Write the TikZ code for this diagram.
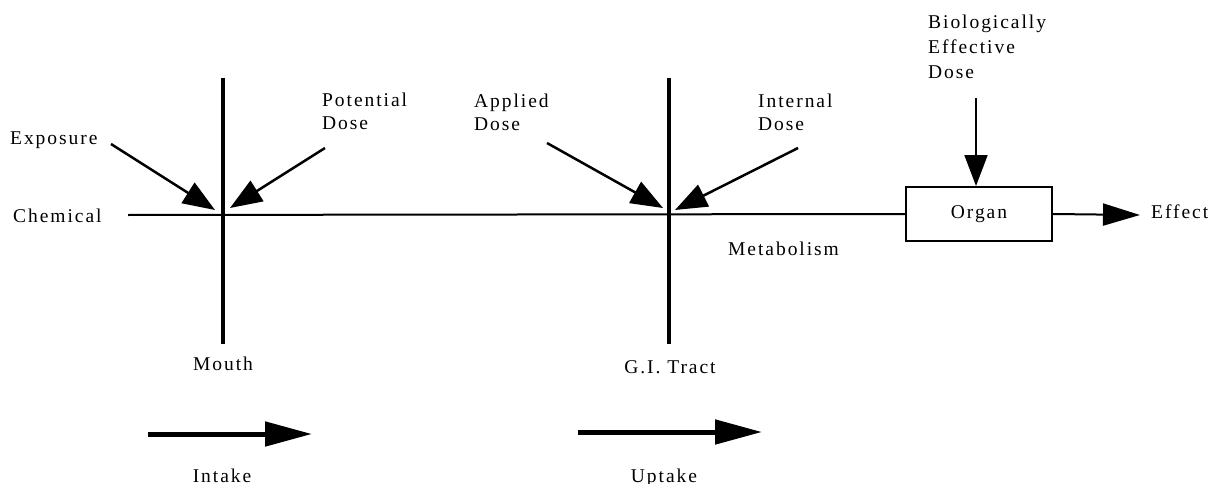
\documentclass[tikz,border=0pt]{standalone}
\usepackage{fontspec}
\setmainfont{Liberation Serif}[LetterSpace=10]
\usetikzlibrary{arrows.meta}
\begin{document}
\begin{tikzpicture}[x=1pt,y=-1pt,
  lbl/.style={inner sep=0pt,font=\fontsize{19.5}{23.5}\selectfont,align=left},
  barrier/.style={line width=4.5pt},
  flow/.style={line width=2pt},
  dosearrow/.style={line width=2.5pt,-{Triangle[length=32pt,width=24pt]}},
  bigarrow/.style={line width=5pt,-{Triangle[length=47pt,width=24pt]}},
  organbox/.style={draw,line width=2pt,minimum width=146pt,minimum height=54pt,inner sep=0pt,font=\fontsize{19.5}{23.5}\selectfont}
]
\useasboundingbox (0,0) rectangle (1220,484);

% coordinates
\coordinate (chemstart) at (128,215);
\coordinate (mouthtop) at (223,78);
\coordinate (mouthbot) at (223,344);
\coordinate (gitop) at (669,78);
\coordinate (gibot) at (669,344);

\coordinate (expS) at (111,144);
\coordinate (expT) at (215,210);
\coordinate (potS) at (325,148);
\coordinate (potT) at (230,208);
\coordinate (appS) at (547,143);
\coordinate (appT) at (663,208);
\coordinate (intS) at (798,148);
\coordinate (intT) at (675,210);
\coordinate (bedS) at (976,98);
\coordinate (effT) at (1140,215);
\coordinate (inS) at (148,434);
\coordinate (inT) at (312,434);
\coordinate (upS) at (578,432);
\coordinate (upT) at (762,432);

% organ box
\node[organbox] (organ) at (979,214) {Organ};

% main line
\draw[flow] (chemstart) -- (organ.west);
\draw[barrier] (mouthtop) -- (mouthbot);
\draw[barrier] (gitop) -- (gibot);

% dose arrows
\draw[dosearrow] (expS) -- (expT);
\draw[dosearrow] (potS) -- (potT);
\draw[dosearrow] (appS) -- (appT);
\draw[dosearrow] (intS) -- (intT);
\draw[flow,-{Triangle[length=31pt,width=23pt]}] (bedS) -- (organ.north -| bedS);
\draw[flow,-{Triangle[length=37pt,width=22pt]}] (organ.east) -- (effT);

% intake/uptake arrows
\draw[bigarrow] (inS) -- (inT);
\draw[bigarrow] (upS) -- (upT);

% labels
\node[lbl,anchor=base west] (exposure) at (10,145) {Exposure};
\node[lbl,anchor=base west] (chemical) at (13,222) {Chemical};
\node[lbl,anchor=base west] (potential) at (322,130) {Potential\\Dose};
\node[lbl,anchor=base west] (applied) at (474,131) {Applied\\Dose};
\node[lbl,anchor=base west] (internal) at (758,131) {Internal\\Dose};
\node[lbl,anchor=base west,font=\fontsize{19.5}{25}\selectfont] (bed) at (928,79) {Biologically\\Effective\\Dose};
\node[lbl,anchor=base west] (metab) at (728,255) {Metabolism};
\node[lbl,anchor=base west] (effect) at (1151,218) {Effect};
\node[lbl,anchor=base] (mouth) at (223,370) {Mouth};
\node[lbl,anchor=base] (gitract) at (670,373) {G.I. Tract};
\node[lbl,anchor=base] (intake) at (222,482) {Intake};
\node[lbl,anchor=base] (uptake) at (664,482) {Uptake};
\end{tikzpicture}
\end{document}
